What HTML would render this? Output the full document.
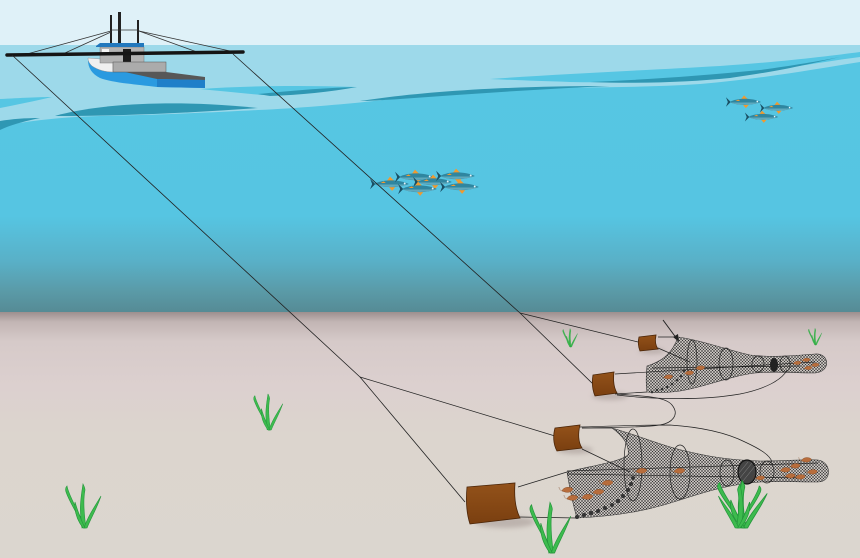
<!DOCTYPE html>
<html><head><meta charset="utf-8"><style>html,body{margin:0;padding:0;background:#dbd6cf}svg{display:block}</style></head>
<body>
<svg width="860" height="558" viewBox="0 0 860 558" xmlns="http://www.w3.org/2000/svg">
<defs>
  <linearGradient id="water" x1="0" y1="60" x2="0" y2="312" gradientUnits="userSpaceOnUse">
    <stop offset="0" stop-color="#56c6e3"/>
    <stop offset="0.62" stop-color="#56c5e2"/>
    <stop offset="0.8" stop-color="#59b0c7"/>
    <stop offset="0.92" stop-color="#5a9aa7"/>
    <stop offset="1" stop-color="#568b95"/>
  </linearGradient>
  <linearGradient id="sand" x1="0" y1="312" x2="0" y2="558" gradientUnits="userSpaceOnUse">
    <stop offset="0" stop-color="#9d8f8e"/>
    <stop offset="0.04" stop-color="#c2b5b4"/>
    <stop offset="0.12" stop-color="#d6cac9"/>
    <stop offset="0.3" stop-color="#dcd0cf"/>
    <stop offset="0.5" stop-color="#dcd5ce"/>
    <stop offset="1" stop-color="#dbd6cf"/>
  </linearGradient>
  <linearGradient id="door" x1="0" y1="0" x2="0" y2="1">
    <stop offset="0" stop-color="#93521a"/>
    <stop offset="1" stop-color="#7a3f10"/>
  </linearGradient>
  <pattern id="mesh" width="3" height="3" patternUnits="userSpaceOnUse">
    <rect width="3" height="3" fill="#c4bfbb"/>
    <path d="M0,0 L3,3 M3,0 L0,3" stroke="#333" stroke-width="0.5"/>
  </pattern>
  <filter id="blur" x="-50%" y="-50%" width="200%" height="200%"><feGaussianBlur stdDeviation="2.5"/></filter>
  <g id="fish">
    <path d="M-14,0 L-19,-5 L-17,0 L-19,5 Z" fill="#1a4f63"/>
    <path d="M-3,-3 L0,-7 L4,-3 Z" fill="#f29a2e"/>
    <path d="M-1,3 L2,6.5 L5,3 Z" fill="#f29a2e"/>
    <path d="M-15,0 C-8,-4.4 8,-4.8 18,0 C8,4 -8,4 -15,0 Z" fill="#2f86a0"/>
    <path d="M-14,0.5 C-6,0.5 8,0.5 17,0.5 C8,3.6 -8,3.6 -14,0.5 Z" fill="#5fa9bd"/>
    <path d="M-9,-1 L-6,-2.5 L-4,-1 Z" fill="#f29a2e"/>
    <circle cx="14" cy="-0.5" r="0.9" fill="#e8f4f8"/>
  </g>
  <g id="weed" fill="#3dbb4e" stroke="#24963b" stroke-width="0.6">
    <path d="M-1,0 C-3,-12 -12,-22 -17,-36 C-18,-39 -17,-41 -16,-42 C-15,-36 -9,-24 2,-2 Z"/>
    <path d="M0,0 C-4,-14 -3,-26 0,-44 C1,-42 2,-40 2,-38 C0,-28 1,-14 3,0 Z"/>
    <path d="M1,0 C5,-12 12,-22 18,-32 C14,-20 8,-10 4,0 Z"/>
    <path d="M0,0 C-6,-8 -9,-16 -8,-26 C-5,-16 -2,-8 2,0 Z"/>
  </g>
  <g id="shrimp">
    <path d="M-5,1 C-4,-3 3,-4 6,-1 C5,2 1,3 -2,2 Z" fill="#b86d3c" stroke="#7d4520" stroke-width="0.4"/>
    <path d="M-5,1 C-7,0 -8,-1 -8,-3" stroke="#7d4520" stroke-width="0.4" fill="none"/>
  </g>
</defs>

<!-- sky & sea -->
<rect x="0" y="0" width="860" height="45" fill="#dff1f8"/>
<rect x="0" y="45" width="860" height="100" fill="#9dd9ea"/>
<path d="M0,126 C30,121 60,117 100,116 C160,115 220,112 258,110 C300,108 350,104 400,98 C440,93 480,90 530,88 C580,87 640,88 700,84 C760,79 810,70 860,62 L860,312 L0,312 Z" fill="url(#water)"/>
<path d="M0,99 C20,98 40,97 52,97 C35,101 15,105 0,108 Z" fill="#56c6e3"/>
<path d="M0,121 C12,119 25,118 40,118 C25,121 10,125 0,130 Z" fill="#2f97b3"/>
<path d="M55,116 C90,106 160,98 258,108 C190,113 120,116 55,116 Z" fill="#2f97b3"/>
<path d="M360,101 C420,92 500,86 610,86 C540,89 470,94 400,99 C385,100 370,101 360,101 Z" fill="#2f97b3"/>
<path d="M200,89 C240,86 300,85 357,87 C320,90 290,94 262,95 C240,93 220,91 200,89 Z" fill="#56c6e3"/>
<path d="M258,94 C290,91 320,88 357,87 C330,92 300,95 270,96 Z" fill="#2f97b3"/>
<path d="M490,79 C560,74 650,70 720,66 C780,62 830,56 860,52 L860,57 C820,62 780,70 720,77 C670,81 620,83 570,82 C540,81 510,80 490,79 Z" fill="#56c6e3"/>
<path d="M590,82 C640,80 700,76 760,70 C790,66 820,61 840,57 C810,64 780,71 730,78 C690,82 640,84 590,82 Z" fill="#2f97b3"/>

<!-- seafloor -->
<rect x="0" y="312" width="860" height="246" fill="url(#sand)"/>

<!-- boat -->
<g>
  <rect x="110" y="15" width="2" height="42" fill="#222"/>
  <rect x="118" y="12" width="3" height="36" fill="#222"/>
  <rect x="137" y="20" width="2" height="30" fill="#222"/>
  <line x1="111" y1="30" x2="139" y2="30" stroke="#333" stroke-width="0.8"/>
  <g stroke="#333" stroke-width="0.8">
    <line x1="111" y1="31" x2="27" y2="54"/>
    <line x1="111" y1="32" x2="65" y2="53"/>
    <line x1="139" y1="31" x2="197" y2="52"/>
    <line x1="139" y1="31" x2="230" y2="51"/>
  </g>
  <path d="M88,60 L113,66 L125,72 L205,78 L205,88 L157,87 C130,84 110,82 100,78 C92,74 88,68 88,60 Z" fill="#2a9ae0"/>
  <path d="M88,58 L113,60 L113,72 C105,72 98,70 92,66 C89,63 88,61 88,58 Z" fill="#f0f0f0" stroke="#888" stroke-width="0.4"/>
  <rect x="100" y="47" width="44" height="16" fill="#b3b3b3" stroke="#666" stroke-width="0.4"/>
  <rect x="102" y="49" width="7" height="6" fill="#f5f5f5"/>
  <rect x="123" y="49" width="8" height="14" fill="#1a1a1a"/>
  <path d="M96,46 L100,43 L144,43 L144,47 L96,47 Z" fill="#2278bd"/>
  <rect x="113" y="62" width="53" height="10" fill="#ababab" stroke="#555" stroke-width="0.5"/>
  <path d="M125,72 L166,72 L205,77 L205,80 L157,79 Z" fill="#575757"/>
  <path d="M157,79 L205,80 L205,88 L157,87 Z" fill="#1f7fc9"/>
  <line x1="7" y1="55" x2="243" y2="52" stroke="#151515" stroke-width="3.5" stroke-linecap="round"/>
</g>

<!-- fish -->
<use href="#fish" transform="translate(390,184) scale(1.05)"/>
<use href="#fish" transform="translate(415,177) scale(1.05)"/>
<use href="#fish" transform="translate(433,182) scale(1.05)"/>
<use href="#fish" transform="translate(418,189) scale(1.05)"/>
<use href="#fish" transform="translate(456,176) scale(1.05)"/>
<use href="#fish" transform="translate(460,187) scale(1.05)"/>
<use href="#fish" transform="translate(744,102) scale(0.95)"/>
<use href="#fish" transform="translate(777,108) scale(0.9)"/>
<use href="#fish" transform="translate(762,117) scale(0.9)"/>

<!-- warps -->
<g stroke="#222" stroke-width="0.8" fill="none">
  <path d="M12,55 L360,377 L465,502"/>
  <path d="M360,377 L555,436" stroke-width="0.7"/>
  <path d="M233,54 L520,313 L593,384"/>
  <path d="M520,313 L638,342" stroke-width="0.7"/>
</g>

<!-- seaweed background -->
<use href="#weed" transform="translate(83,528)"/>
<use href="#weed" transform="translate(268,430) scale(0.82)"/>
<use href="#weed" transform="translate(570,347) scale(0.42)"/>
<use href="#weed" transform="translate(815,345) scale(0.38)"/>

<!-- door shadows -->
<g fill="#a89c98" opacity="0.6" filter="url(#blur)">
  <ellipse cx="505" cy="522" rx="30" ry="6"/>
  <ellipse cx="575" cy="450" rx="18" ry="4"/>
  <ellipse cx="610" cy="396" rx="18" ry="4"/>
  <ellipse cx="652" cy="351" rx="13" ry="3"/>
</g>

<!-- upper net -->
<g>
  <path d="M678,337 C700,340 725,349 750,355 C775,358 800,355 815,354 C830,353 831,372 815,373 C795,373 775,371 755,373 C730,376 705,387 680,391 C665,393 655,393 647,392 C646,385 646,375 647,366 C660,362 672,355 678,337 Z" fill="url(#mesh)" stroke="#333" stroke-width="0.6"/>
  <g fill="none" stroke="#222" stroke-width="0.7">
    <ellipse cx="692" cy="362" rx="5" ry="22"/>
    <ellipse cx="726" cy="364" rx="7" ry="16"/>
    <ellipse cx="758" cy="364" rx="6" ry="8"/>
    <ellipse cx="785" cy="364" rx="5" ry="8"/>
    <line x1="615" y1="374" x2="815" y2="362"/>
    <line x1="652" y1="368" x2="800" y2="366"/>
    <line x1="658" y1="337" x2="678" y2="337"/>
    <line x1="658" y1="348" x2="690" y2="362"/>
    <line x1="615" y1="394" x2="647" y2="392"/>
    <path d="M617,394 C640,396 665,396 672,405 C680,415 672,423 660,425 C640,428 610,427 582,428"/>
    <path d="M617,395 C650,399 700,401 740,394 C765,389 782,380 787,370"/>
  </g>
  <ellipse cx="774" cy="365" rx="4" ry="7" fill="#222"/>
  <g fill="#333">
    <circle cx="652" cy="392" r="1.3"/><circle cx="657" cy="390" r="1.3"/><circle cx="662" cy="389" r="1.3"/>
    <circle cx="667" cy="387" r="1.3"/><circle cx="672" cy="384" r="1.3"/><circle cx="677" cy="380" r="1.3"/>
    <circle cx="681" cy="376" r="1.3"/><circle cx="684" cy="371" r="1.3"/>
  </g>
  <use href="#shrimp" transform="translate(668,377) scale(0.8)"/>
  <use href="#shrimp" transform="translate(689,373) scale(0.8)"/>
  <use href="#shrimp" transform="translate(700,368) scale(0.8)"/>
  <use href="#shrimp" transform="translate(797,363) scale(0.7)"/>
  <use href="#shrimp" transform="translate(806,360) scale(0.7)"/>
  <use href="#shrimp" transform="translate(815,365) scale(0.7)"/>
  <use href="#shrimp" transform="translate(808,368) scale(0.7)"/>
  <path d="M639,337 L656,335 C655,340 655,345 658,349 L640,351 C638,346 638,341 639,337 Z" fill="url(#door)" stroke="#4a2508" stroke-width="0.8"/>
  <path d="M593,375 L614,372 C613,380 614,388 617,393 L595,396 C592,389 592,381 593,375 Z" fill="url(#door)" stroke="#4a2508" stroke-width="0.8"/>
  <line x1="663" y1="320" x2="677" y2="339" stroke="#222" stroke-width="1"/>
  <path d="M679,342 L673,337 L678,334 Z" fill="#222"/>
</g>

<!-- lower net -->
<g>
  <path d="M612,428 C640,436 665,447 690,452 C715,458 735,460 760,461 C790,461 805,459 818,460 C832,462 832,482 818,482 C800,482 780,481 760,482 C730,484 705,492 680,500 C650,510 620,516 577,518 C573,505 570,490 567,472 C590,466 620,462 628,455 C630,445 622,435 612,428 Z" fill="url(#mesh)" stroke="#333" stroke-width="0.6"/>
  <g fill="none" stroke="#222" stroke-width="0.7">
    <ellipse cx="633" cy="465" rx="9" ry="36"/>
    <ellipse cx="680" cy="472" rx="10" ry="27"/>
    <ellipse cx="727" cy="473" rx="7" ry="13"/>
    <ellipse cx="767" cy="472" rx="7" ry="11"/>
    <line x1="567" y1="471" x2="818" y2="463"/>
    <line x1="567" y1="474" x2="800" y2="478"/>
    <line x1="518" y1="487" x2="567" y2="472"/>
    <line x1="520" y1="517" x2="577" y2="518"/>
    <line x1="582" y1="428" x2="612" y2="428"/>
    <line x1="582" y1="449" x2="630" y2="472"/>
    <path d="M580,427 C610,426 645,425 670,425 C700,427 725,432 745,442 C760,449 770,455 772,462"/>
  </g>
  <ellipse cx="747" cy="472" rx="9" ry="12" fill="#444" stroke="#111" stroke-width="1.2"/>
  <g stroke="#888" stroke-width="0.5"><line x1="740" y1="478" x2="752" y2="463"/><line x1="743" y1="481" x2="755" y2="466"/><line x1="739" y1="473" x2="748" y2="462"/></g>
  <g fill="#333">
    <circle cx="577" cy="517" r="2"/><circle cx="584" cy="515" r="2"/><circle cx="591" cy="513" r="2"/>
    <circle cx="598" cy="511" r="2"/><circle cx="605" cy="508" r="2"/><circle cx="612" cy="505" r="2"/>
    <circle cx="618" cy="501" r="2"/><circle cx="623" cy="496" r="2"/><circle cx="628" cy="490" r="2"/>
    <circle cx="631" cy="484" r="2"/><circle cx="633" cy="478" r="2"/>
  </g>
  <use href="#shrimp" transform="translate(567,490)"/>
  <use href="#shrimp" transform="translate(572,498)"/>
  <use href="#shrimp" transform="translate(587,497)"/>
  <use href="#shrimp" transform="translate(598,492)"/>
  <use href="#shrimp" transform="translate(607,483)"/>
  <use href="#shrimp" transform="translate(641,471)"/>
  <use href="#shrimp" transform="translate(679,471)"/>
  <use href="#shrimp" transform="translate(785,470) scale(0.9)"/>
  <use href="#shrimp" transform="translate(795,466) scale(0.9)"/>
  <use href="#shrimp" transform="translate(806,460) scale(0.9)"/>
  <use href="#shrimp" transform="translate(812,472) scale(0.9)"/>
  <use href="#shrimp" transform="translate(800,477) scale(0.9)"/>
  <use href="#shrimp" transform="translate(790,476) scale(0.9)"/>
  <use href="#shrimp" transform="translate(760,478) scale(0.8)"/>
  <path d="M555,428 L580,425 C578,433 578,442 582,448 L557,451 C553,444 553,435 555,428 Z" fill="url(#door)" stroke="#4a2508" stroke-width="0.8"/>
  <path d="M467,487 L515,483 C514,496 515,508 520,518 L470,524 C466,512 466,498 467,487 Z" fill="url(#door)" stroke="#4a2508" stroke-width="0.8"/>
</g>

<!-- foreground seaweed -->
<use href="#weed" transform="translate(550,553) scale(1.15)"/>
<use href="#weed" transform="translate(742,528) scale(1.4,1.08)"/>
<use href="#weed" transform="translate(740,528) scale(-1.2,1)"/>
</svg>
</body></html>
